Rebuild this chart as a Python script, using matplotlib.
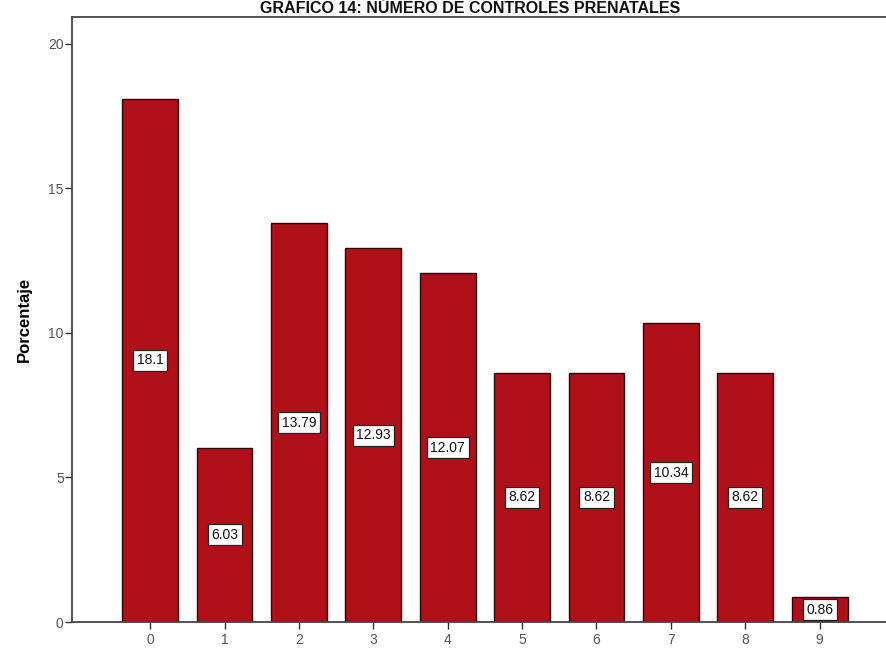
import matplotlib
matplotlib.use("Agg")
import matplotlib.pyplot as plt

categories = ["0", "1", "2", "3", "4", "5", "6", "7", "8", "9"]
percentages = [18.10, 6.03, 13.79, 12.93, 12.07, 8.62, 8.62, 10.34, 8.62, 0.86]
value_labels = ["18.1", "6.03", "13.79", "12.93", "12.07", "8.62", "8.62", "10.34", "8.62", "0.86"]
yticks = [0, 5, 10, 15, 20]

plt.rcParams["font.family"] = ["Liberation Sans", "DejaVu Sans"]

fig = plt.figure(figsize=(8.87, 6.48), dpi=100)
ax = fig.add_axes([0.0812, 0.0401, 0.9188, 0.934])

x = list(range(len(categories)))
ax.bar(x, percentages, width=0.75, color="#b01018", edgecolor="#2a0a0a", linewidth=1.0, zorder=2)

for xi, v, lab in zip(x, percentages, value_labels):
    ax.text(xi, v / 2, lab, ha="center", va="center", fontsize=10, color="#111111",
            bbox=dict(boxstyle="square,pad=0.25", facecolor="white", edgecolor="#222222", linewidth=0.9),
            zorder=3)

ax.set_xlim(-1.05, 9.905)
ax.set_ylim(0, 20.94)
ax.set_xticks(x)
ax.set_xticklabels(categories)
ax.set_yticks(yticks)
ax.tick_params(axis="both", labelsize=10, labelcolor="#555555", color="#333333", length=5, width=1)
ax.tick_params(axis="x", direction="inout", pad=3, length=10)
ax.tick_params(axis="y", pad=1)

for side in ["left", "bottom", "top"]:
    ax.spines[side].set_color("#444444")
    ax.spines[side].set_linewidth(1.3)
ax.spines["right"].set_visible(False)

ax.set_ylabel("Porcentaje", fontsize=12, fontweight="bold", labelpad=12)
fig.text(0.53, 1 - 1 / 648, "GRÁFICO 14: NÚMERO DE CONTROLES PRENATALES", ha="center", va="top",
         fontsize=11.5, fontweight="bold", color="#111111")

fig.savefig("out.png", dpi=100)
